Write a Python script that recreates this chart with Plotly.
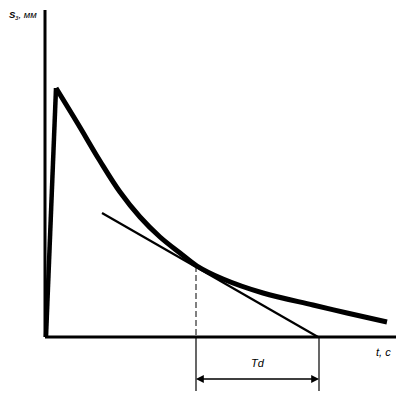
import plotly.graph_objects as go

# Data (arbitrary units, t and S)
t_rise = [1, 11]
s_rise = [0, 249]
t_decay = [11, 33, 55, 75, 95, 115, 135, 152, 178, 218, 268, 302, 342]
s_decay = [249, 213, 176, 145, 120, 100, 84, 71, 58, 44, 32, 24, 15]
t_tangent = [57, 273]
s_tangent = [124, 0]
t_point = 151
s_point = 71
t_end = 274
axis_t_max = 353
axis_s_max = 327
x_label = "<i>t, c</i>"
y_label = "<i><b>S</b><sub>з</sub>, мм</i>"
td_label = "<i>Td</i>"

fig = go.Figure()
black = "black"
# axes
fig.add_trace(go.Scatter(x=[0, axis_t_max], y=[0, 0], mode="lines", line=dict(color=black, width=3)))
fig.add_trace(go.Scatter(x=[0, 0], y=[0, axis_s_max], mode="lines", line=dict(color=black, width=3)))
# curve
fig.add_trace(go.Scatter(x=t_rise, y=s_rise, mode="lines", line=dict(color=black, width=4.5)))
fig.add_trace(go.Scatter(x=t_decay, y=s_decay, mode="lines",
                         line=dict(color=black, width=5, shape="spline", smoothing=1)))
# tangent
fig.add_trace(go.Scatter(x=t_tangent, y=s_tangent, mode="lines", line=dict(color=black, width=2.2)))
# dashed projection
fig.add_trace(go.Scatter(x=[t_point, t_point], y=[s_point, 0], mode="lines",
                         line=dict(color=black, width=1, dash="6px,3px")))
# extension lines
dim_bottom = -54
fig.add_trace(go.Scatter(x=[t_point, t_point], y=[0, dim_bottom], mode="lines", line=dict(color=black, width=1.2)))
fig.add_trace(go.Scatter(x=[t_end, t_end], y=[0, dim_bottom], mode="lines", line=dict(color=black, width=1.2)))

# dimension arrow (Td)
arrow_y = -42
for tip, tail in [(t_end, t_point), (t_point, t_end)]:
    fig.add_annotation(x=tip, y=arrow_y, ax=tail, ay=arrow_y, xref="x", yref="y", axref="x", ayref="y",
                       showarrow=True, arrowhead=2, arrowsize=1.3, arrowwidth=1.2, arrowcolor=black, text="")

font = dict(family="Liberation Sans, Arial", size=11, color=black)
fig.add_annotation(x=(t_point + t_end) / 2, y=-26, text=td_label, showarrow=False, font=font, xref="x", yref="y")
fig.add_annotation(x=338, y=-15, text=x_label, showarrow=False, font=font, xref="x", yref="y")
fig.add_annotation(x=-22, y=322, text=y_label, showarrow=False,
                   font=dict(family="Liberation Sans, Arial", size=9.5, color=black), xref="x", yref="y")

# page body has an 8px margin: figure is 396x386 and shifted accordingly
fig.update_layout(
    width=396, height=386, margin=dict(l=0, r=0, t=0, b=0),
    paper_bgcolor="white", plot_bgcolor="white", showlegend=False,
    xaxis=dict(range=[-37, 359], visible=False, fixedrange=True),
    yaxis=dict(range=[-57, 329], visible=False, fixedrange=True),
)
fig.write_html("out.html")
